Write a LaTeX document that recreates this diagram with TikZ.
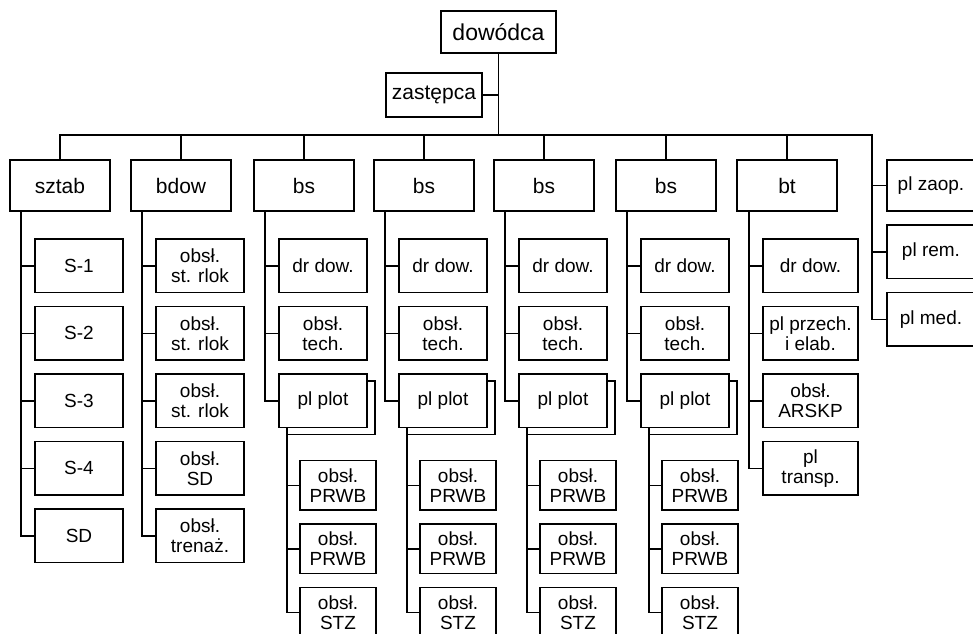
\documentclass[tikz,border=0pt]{standalone}
\usepackage{fontspec}
\setmainfont{Liberation Sans}
\usetikzlibrary{positioning,shadows}
\tikzset{
  orgtop/.style={rectangle, draw=black, line width=1.5pt, outer sep=0pt, align=center, minimum width=100pt, minimum height=51pt, inner sep=1pt, font=\fontsize{21}{22}\selectfont},
  orgsub/.style={rectangle, draw=black, line width=1.5pt, outer sep=0pt, align=center, minimum width=88pt, minimum height=53.5pt, inner sep=1pt, font=\fontsize{19}{20}\selectfont},
  orgplot/.style={orgsub, fill=white, copy shadow={shadow xshift=8pt, shadow yshift=-7pt, draw=black, fill=white, line width=1.5pt}},
  orggrand/.style={orgsub, minimum width=76pt, minimum height=49.5pt},
  orgline/.style={line width=1.5pt}
}
\begin{document}
\begin{tikzpicture}[x=1pt, y=-1pt]
\useasboundingbox (0,0) rectangle (973,633);
% dowodztwo
\node[orgtop, minimum width=115pt, minimum height=42pt, font=\fontsize{23}{24}\selectfont] (dow) at (498.5,32) {dowódca};
\node[orgtop, minimum width=96pt, minimum height=44pt] (zast) at (434,95) {zastępca};
\coordinate (bus) at (0,135);
\coordinate (side) at (872,135);
% pododdzialy
\foreach \n/\x/\t in {sztab/60/sztab, bdow/181/bdow, bs1/304/bs, bs2/424/bs, bs3/544/bs, bs4/666/bs, bt/787/bt}
  \node[orgtop] (\n) at (\x,185.5) {\t};
% sztab
\node[orgsub, anchor=north west] (sztab-1) at ([shift={(25pt,-28pt)}]sztab.south west) {S-1};
\node[orgsub, below=14pt of sztab-1] (sztab-2) {S-2};
\node[orgsub, below=14pt of sztab-2] (sztab-3) {S-3};
\node[orgsub, below=14pt of sztab-3] (sztab-4) {S-4};
\node[orgsub, below=14pt of sztab-4] (sztab-5) {SD};
% bdow
\node[orgsub, anchor=north west] (bdow-1) at ([shift={(25pt,-28pt)}]bdow.south west) {obsł.\\st. rlok};
\node[orgsub, below=14pt of bdow-1] (bdow-2) {obsł.\\st. rlok};
\node[orgsub, below=14pt of bdow-2] (bdow-3) {obsł.\\st. rlok};
\node[orgsub, below=14pt of bdow-3] (bdow-4) {obsł.\\SD};
\node[orgsub, below=14pt of bdow-4] (bdow-5) {obsł.\\trenaż.};
\foreach \n in {sztab,bdow}{
  \coordinate (\n-v) at ([xshift=11pt]\n.south west);
  \draw[orgline] (\n-v) |- (\n-5.west);
  \foreach \i in {1,...,4}
    \draw[orgline] (\n-\i.west) -- (\n-\i.west -| \n-v);
}
% baterie
\foreach \b in {bs1,bs2,bs3,bs4}{
  \node[orgsub, anchor=north west] (\b-1) at ([shift={(25pt,-28pt)}]\b.south west) {dr dow.};
  \node[orgsub, below=14pt of \b-1] (\b-2) {obsł.\\tech.};
  \node[orgplot, below=14pt of \b-2] (\b-3) {pl plot};
  \node[orggrand, anchor=north west] (\b-4) at ([shift={(21pt,-33pt)}]\b-3.south west) {obsł.\\PRWB};
  \node[orggrand, below=14pt of \b-4] (\b-5) {obsł.\\PRWB};
  \node[orggrand, below=14pt of \b-5] (\b-6) {obsł.\\STZ};
  \coordinate (\b-v) at ([xshift=11pt]\b.south west);
  \coordinate (\b-w) at ([xshift=8pt]\b-3.south west);
  \draw[orgline] (\b-v) |- (\b-3.west);
  \draw[orgline] (\b-1.west) -- (\b-1.west -| \b-v);
  \draw[orgline] (\b-2.west) -- (\b-2.west -| \b-v);
  \draw[orgline] (\b-w) |- (\b-6.west);
  \draw[orgline] (\b-4.west) -- (\b-4.west -| \b-w);
  \draw[orgline] (\b-5.west) -- (\b-5.west -| \b-w);
}
% bt
\node[orgsub, minimum width=95pt, anchor=north west] (bt-1) at ([shift={(26pt,-28pt)}]bt.south west) {dr dow.};
\node[orgsub, minimum width=95pt, below=14pt of bt-1] (bt-2) {pl przech.\\i elab.};
\node[orgsub, minimum width=95pt, below=14pt of bt-2] (bt-3) {obsł.\\ARSKP};
\node[orgsub, minimum width=95pt, below=14pt of bt-3] (bt-4) {pl\\transp.};
\coordinate (bt-v) at ([xshift=12pt]bt.south west);
\draw[orgline] (bt-v) |- (bt-4.west);
\foreach \i in {1,2,3}
  \draw[orgline] (bt-\i.west) -- (bt-\i.west -| bt-v);
% plutony
\node[orgsub, minimum height=51pt] (zaop) at (931,185.5) {pl zaop.};
\node[orgsub, below=14pt of zaop] (rem) {pl rem.};
\node[orgsub, below=14pt of rem] (med) {pl med.};
% polaczenia
\draw[orgline] (dow.south) -- (dow.south |- bus);
\draw[orgline] (zast.east) -- (zast.east -| dow.south);
\draw[orgline] (sztab.north) |- (side) |- (med.west);
\draw[orgline] (zaop.west) -- (zaop.west -| side);
\draw[orgline] (rem.west) -- (rem.west -| side);
\foreach \n in {bdow,bs1,bs2,bs3,bs4,bt}
  \draw[orgline] (\n.north) -- (\n.north |- bus);
\end{tikzpicture}
\end{document}
